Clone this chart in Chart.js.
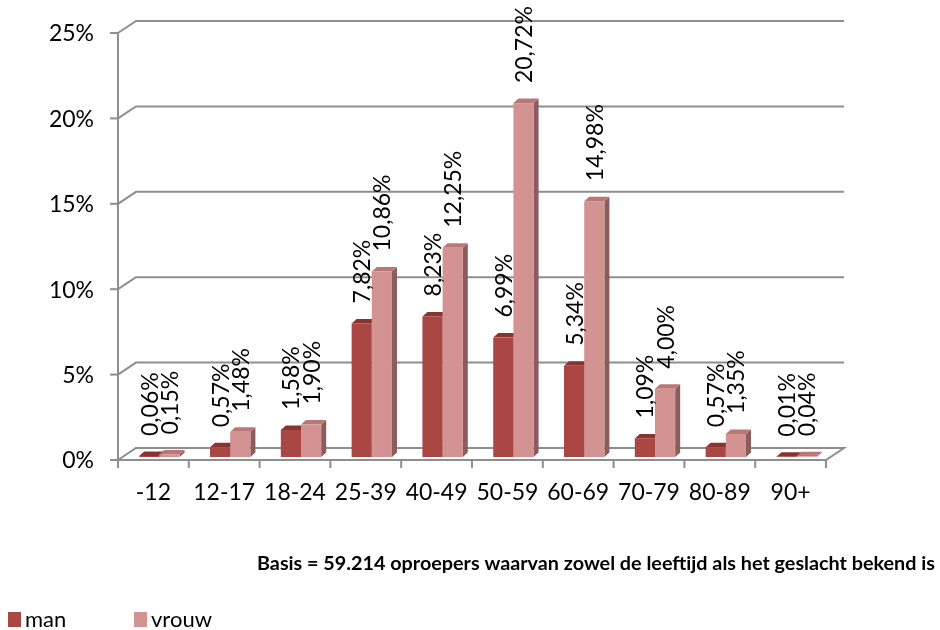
<!DOCTYPE html>
<html>
<head>
<meta charset="utf-8">
<style>
html,body{margin:0;padding:0;background:#fff;}
#wrap{width:940px;height:630px;position:relative;}
</style>
<script src="https://cdn.jsdelivr.net/npm/chart.js@4.4.1/dist/chart.umd.min.js"></script>
</head>
<body>
<div id="wrap"><canvas id="c" width="940" height="630"></canvas></div>
<script>
// ---- data ----
const categories = ['-12','12-17','18-24','25-39','40-49','50-59','60-69','70-79','80-89','90+'];
const manValues = [0.06,0.57,1.58,7.82,8.23,6.99,5.34,1.09,0.57,0.01];
const vrouwValues = [0.15,1.48,1.90,10.86,12.25,20.72,14.98,4.00,1.35,0.04];
const yTicks = [0,5,10,15,20,25];
const seriesNames = ['man','vrouw'];
const footnote = 'Basis = 59.214 oproepers waarvan zowel de leeftijd als het geslacht bekend is';

// ---- style ----
const FONT = 'Lato, "Open Sans", sans-serif';
const GRID = '#8e8e8e';
const PAD = {left:118, right:114, top:33, bottom:170};
const AREA_H = 630 - PAD.top - PAD.bottom;
const BAR_LIFT = 3;            // px that bars sit behind the front edge
const LIFT_UNITS = BAR_LIFT * 25 / AREA_H;
const WALL_DX = 18, WALL_DY = -12;
const BAR_DX = 5, BAR_DY = -4.5, BAR_SHIFT = 6;
const colors = [
  {front:'#aa4644', top:'#8a3432', side:'#7a2e2c'},
  {front:'#d49393', top:'#b97777', side:'#8a5c5c'}
];
const fmt = v => v.toFixed(2).replace('.', ',') + '%';

const threeD = {
  id:'threeD',
  beforeDatasetsDraw(chart){
    const ctx = chart.ctx, x = chart.scales.x, y = chart.scales.y, a = chart.chartArea;
    ctx.save();
    ctx.strokeStyle = GRID; ctx.lineWidth = 2; ctx.lineJoin = 'miter';
    yTicks.forEach(v => {
      const py = y.getPixelForValue(v);
      ctx.beginPath();
      ctx.moveTo(a.left, py);
      ctx.lineTo(a.left + WALL_DX, py + WALL_DY);
      ctx.lineTo(a.right + WALL_DX, py + WALL_DY);
      if (v === 0) {
        ctx.lineTo(a.right, py);
        ctx.lineTo(a.left, py);
      }
      ctx.stroke();
    });
    const p0 = y.getPixelForValue(yTicks[0]), pN = y.getPixelForValue(yTicks[yTicks.length-1]);
    ctx.beginPath(); ctx.moveTo(a.left, p0); ctx.lineTo(a.left, pN); ctx.stroke();
    yTicks.forEach(v => {
      const py = y.getPixelForValue(v);
      ctx.beginPath(); ctx.moveTo(a.left - 8, py); ctx.lineTo(a.left, py); ctx.stroke();
    });
    const n = categories.length, cw = (a.right - a.left) / n;
    for (let i = 0; i <= n; i++) {
      const px = x.getPixelForValue(0) - cw/2 + i*cw;
      ctx.beginPath(); ctx.moveTo(px, p0); ctx.lineTo(px, p0 + 8); ctx.stroke();
    }
    ctx.translate(BAR_SHIFT, 0);
    for (let i = 0; i < n; i++) {
      chart.data.datasets.forEach((ds, di) => {
        const el = chart.getDatasetMeta(di).data[i];
        const c = colors[di];
        const l = el.x - el.width/2, r = el.x + el.width/2, t = el.y, b = el.base;
        ctx.fillStyle = c.side;
        ctx.beginPath();
        ctx.moveTo(r, t); ctx.lineTo(r + BAR_DX, t + BAR_DY); ctx.lineTo(r + BAR_DX, b + BAR_DY); ctx.lineTo(r, b);
        ctx.closePath(); ctx.fill();
        ctx.fillStyle = c.top;
        ctx.beginPath();
        ctx.moveTo(l, t); ctx.lineTo(r, t); ctx.lineTo(r + BAR_DX, t + BAR_DY); ctx.lineTo(l + BAR_DX, t + BAR_DY);
        ctx.closePath(); ctx.fill();
        ctx.fillStyle = c.front;
        ctx.fillRect(l, t, r - l, b - t);
      });
    }
    ctx.restore();
    return false;
  },
  afterDraw(chart){
    const ctx = chart.ctx, x = chart.scales.x, y = chart.scales.y, a = chart.chartArea;
    ctx.save();
    ctx.fillStyle = '#000';
    ctx.font = '23px ' + FONT;
    ctx.textAlign = 'right'; ctx.textBaseline = 'middle';
    yTicks.forEach(v => ctx.fillText(v + '%', a.left - 24, y.getPixelForValue(v) + 1));
    ctx.textAlign = 'center';
    categories.forEach((c, i) => ctx.fillText(c, x.getPixelForValue(i), y.getPixelForValue(0) + 33));
    ctx.textAlign = 'left';
    chart.data.datasets.forEach((ds, di) => {
      chart.getDatasetMeta(di).data.forEach((el, i) => {
        ctx.save();
        ctx.translate(el.x + BAR_SHIFT, el.y - 20);
        ctx.rotate(-Math.PI/2);
        ctx.fillText(fmt(ds.data[i]), 0, 1);
        ctx.restore();
      });
    });
    ctx.font = 'bold 19px ' + FONT;
    const w = ctx.measureText(footnote).width, target = 678;
    ctx.save();
    ctx.translate(935, 564);
    ctx.scale(target / w, 1);
    ctx.textAlign = 'right';
    ctx.fillText(footnote, 0, 0);
    ctx.restore();
    ctx.font = '22px ' + FONT;
    ctx.textAlign = 'left';
    const lx = [8, 134];
    chart.data.datasets.forEach((ds, di) => {
      ctx.fillStyle = ds.backgroundColor;
      ctx.fillRect(lx[di], 612, 13, 15);
      ctx.fillStyle = '#000';
      ctx.fillText(ds.label, lx[di] + 17, 620);
    });
    ctx.restore();
  }
};

new Chart(document.getElementById('c'), {
  type:'bar',
  data:{
    labels: categories,
    datasets:[
      {label: seriesNames[0], data: manValues, backgroundColor: colors[0].front, yAxisID:'yb'},
      {label: seriesNames[1], data: vrouwValues, backgroundColor: colors[1].front, yAxisID:'yb'}
    ]
  },
  options:{
    responsive:false,
    animation:false,
    devicePixelRatio:1,
    layout:{padding:PAD},
    categoryPercentage:0.57,
    barPercentage:1,
    plugins:{legend:{display:false}, tooltip:{enabled:false}},
    scales:{
      x:{display:false, offset:true},
      y:{display:false, min:0, max:25},
      yb:{display:false, min:-LIFT_UNITS, max:25 - LIFT_UNITS}
    }
  },
  plugins:[threeD]
});
</script>
</body>
</html>
